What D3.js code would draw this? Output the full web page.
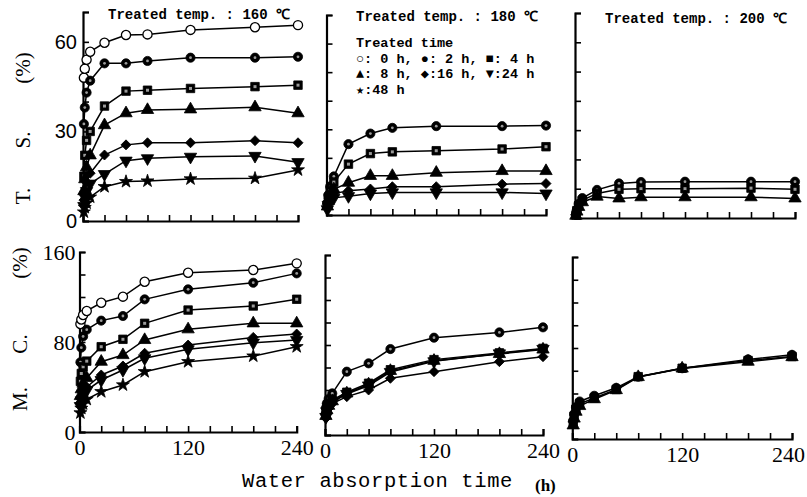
<!DOCTYPE html>
<html>
<head>
<meta charset="utf-8">
<script src="https://cdn.jsdelivr.net/npm/d3@7"></script>
<style>
  body { margin: 0; background: #fff; }
  svg { display: block; }
</style>
</head>
<body>
<svg id="chart" width="807" height="497"></svg>
<script>
// Water absorption time (h) at which each specimen was measured
const hours = [1, 2, 4, 8, 24, 48, 72, 120, 192, 240];
const hourTicks = [0, 24, 48, 72, 96, 120, 144, 168, 192, 216, 240];
const hourLabels = [0, 120, 240];

// Thickness swelling T.S. (%) — one row per treated time
const ts160Keys = ["0h", "2h", "4h", "8h", "16h", "24h", "48h"];
const ts160 = [
  [48.0, 51.0, 54.0, 56.7, 59.7, 62.3, 62.5, 64.0, 64.9, 65.6],
  [32.5, 38.0, 43.0, 47.0, 52.8, 52.8, 53.6, 54.7, 54.7, 55.0],
  [15.0, 22.0, 27.0, 30.0, 38.5, 43.5, 43.8, 44.4, 45.0, 45.5],
  [10.0, 14.0, 18.0, 22.0, 32.1, 36.1, 37.2, 37.4, 38.1, 36.1],
  [7.0, 10.0, 13.0, 16.0, 22.1, 25.5, 26.2, 26.2, 26.9, 26.2],
  [5.0, 8.0, 10.0, 12.5, 15.7, 20.2, 21.0, 21.5, 21.8, 19.7],
  [3.0, 4.5, 6.0, 8.0, 11.5, 13.2, 13.4, 14.1, 14.3, 17.1]
];
const ts180Keys = ["2h", "4h", "8h", "16h", "24h"];
const ts180 = [
  [4.0, 7.0, 10.0, 13.5, 24.8, 28.5, 30.5, 31.1, 31.1, 31.3],
  [3.5, 6.0, 8.5, 11.5, 17.8, 21.5, 22.1, 22.5, 23.1, 23.9],
  [3.0, 5.0, 7.0, 9.0, 11.3, 13.7, 13.7, 14.8, 15.4, 15.4],
  [2.5, 4.5, 6.0, 7.5, 8.5, 9.1, 9.9, 9.9, 10.8, 11.0],
  [2.0, 3.5, 5.0, 6.0, 6.6, 7.5, 7.9, 7.9, 7.9, 7.5]
];
const ts200Keys = ["2h", "4h", "8h"];
const ts200 = [
  [1.2, 2.8, 4.8, 6.8, 9.6, 11.8, 12.3, 12.4, 12.4, 12.4],
  [1.0, 2.5, 4.2, 6.0, 8.4, 9.8, 10.0, 10.0, 10.2, 9.8],
  [0.8, 2.2, 3.8, 5.4, 7.3, 6.7, 7.1, 7.1, 7.1, 6.7]
];

// Moisture content M.C. (%) — one row per treated time
const mc160Keys = ["0h", "2h", "4h", "8h", "16h", "24h", "48h"];
const mc160 = [
  [96.0, 100.0, 104.0, 107.6, 114.9, 120.3, 133.6, 141.6, 144.0, 149.9],
  [62.0, 75.0, 85.0, 91.0, 99.0, 103.1, 117.9, 126.8, 132.7, 141.0],
  [45.0, 52.0, 58.0, 63.0, 75.8, 82.4, 96.6, 108.4, 112.0, 118.0],
  [32.0, 38.0, 43.0, 48.0, 62.5, 68.4, 81.8, 91.3, 96.6, 96.6],
  [26.0, 31.0, 36.0, 40.0, 50.7, 58.7, 70.0, 77.3, 84.1, 87.1],
  [23.0, 28.0, 33.0, 37.0, 46.2, 55.1, 65.5, 73.5, 79.4, 81.8],
  [17.0, 21.0, 25.0, 29.0, 35.8, 41.8, 53.6, 62.5, 67.5, 75.8]
];
const mc180Keys = ["2h", "4h", "8h", "16h", "24h"];
const mc180 = [
  [24.0, 28.0, 32.0, 37.0, 56.3, 63.7, 76.4, 86.5, 91.2, 95.7],
  [18.0, 23.0, 27.0, 31.0, 38.0, 46.0, 58.0, 67.0, 73.0, 77.0],
  [17.0, 22.0, 26.0, 30.0, 37.0, 45.0, 57.0, 66.0, 72.0, 76.0],
  [15.0, 20.0, 24.0, 28.0, 34.1, 40.0, 50.4, 56.3, 65.2, 69.6],
  [16.0, 21.0, 25.0, 29.0, 36.5, 44.0, 56.0, 65.5, 72.5, 76.5]
];
const mc200Keys = ["2h", "4h", "8h"];
const mc200 = [
  [16.0, 22.0, 28.0, 33.0, 38.0, 45.0, 54.8, 62.2, 70.0, 74.0],
  [14.0, 20.0, 26.0, 31.0, 36.0, 43.5, 54.8, 62.2, 69.0, 72.5],
  [12.0, 18.0, 24.0, 29.0, 35.0, 43.0, 54.5, 62.0, 68.0, 72.0]
];

const tsTicks = [0, 10, 20, 30, 40, 50, 60, 70];
const tsLabels = [0, 30, 60];
const mcTicks = [0, 20, 40, 60, 80, 100, 120, 140, 160];
const mcLabels = [0, 80, 160];

const panelTitles = ["Treated temp. : 160 \u2103", "Treated temp. : 180 \u2103", "Treated temp. : 200 \u2103"];
const legendLines = [
  "Treated time",
  "\u25CB: 0 h, \u25CF: 2 h, \u25A0: 4 h",
  "\u25B2: 8 h, \u25C6:16 h, \u25BC:24 h",
  "\u2605:48 h"
];

// ---------------------------------------------------------------
const svg = d3.select("#chart");
svg.append("rect").attr("width", 807).attr("height", 497).attr("fill", "#fff");

const panels = [
  { keys: ts160Keys, rows: ts160, ticks: tsTicks, labels: tsLabels, top: 70, px: [83, 298], py: [221, 12], yLab: "sans", xLab: false },
  { keys: ts180Keys, rows: ts180, ticks: tsTicks, labels: null, top: 70, px: [326.5, 546], py: [215, 15], xLab: false },
  { keys: ts200Keys, rows: ts200, ticks: tsTicks, labels: null, top: 70, px: [575, 795], py: [218, 13], xLab: false },
  { keys: mc160Keys, rows: mc160, ticks: mcTicks, labels: mcLabels, top: 160, px: [79.5, 296.7], py: [432, 252], yLab: "serif", xLab: true },
  { keys: mc180Keys, rows: mc180, ticks: mcTicks, labels: null, top: 160, px: [325, 543], py: [435, 255], xLab: true },
  { keys: mc200Keys, rows: mc200, ticks: mcTicks, labels: null, top: 160, px: [572.3, 792], py: [439, 257], xLab: true, lastShift: -4 }
];

const markerSym = {
  "0h":  { type: d3.symbolCircle, size: 66, fill: "#fff", rot: 0 },
  "2h":  { type: d3.symbolCircle, size: 66, fill: "#000", rot: 0, inner: "circle" },
  "4h":  { type: d3.symbolSquare, size: 72, fill: "#000", rot: 0, inner: "square" },
  "8h":  { type: d3.symbolTriangle, size: 66, fill: "#000", rot: 0 },
  "16h": { type: d3.symbolSquare, size: 50, fill: "#000", rot: 45 },
  "24h": { type: d3.symbolTriangle, size: 66, fill: "#000", rot: 180 },
  "48h": { type: d3.symbolStar, size: 52, fill: "#000", rot: 0 }
};

panels.forEach(p => {
  const x = d3.scaleLinear().domain([0, 240]).range(p.px);
  const y = d3.scaleLinear().domain([0, p.top]).range(p.py);
  const g = svg.append("g");

  // y axis: ticks point inward, labels only on the leftmost column
  const yAxis = d3.axisLeft(y).tickValues(p.ticks)
    .tickSizeInner(-6).tickSizeOuter(-6).tickPadding(p.yLab === "sans" ? 6 : 4)
    .tickFormat(d => (p.labels && p.labels.includes(d)) ? d : "");
  const ya = g.append("g").attr("transform", `translate(${p.px[0]},0)`).call(yAxis);
  ya.selectAll("text")
    .attr("font-family", p.yLab === "sans" ? "Liberation Sans, Arial, sans-serif" : "Liberation Serif, Times New Roman, serif")
    .attr("font-size", p.yLab === "sans" ? 20 : 22)
    .attr("fill", "#000");

  // x axis: upward ticks every day, labels below on the bottom row
  const xAxis = d3.axisBottom(x).tickValues(hourTicks)
    .tickSizeInner(-6).tickSizeOuter(-6).tickPadding(7)
    .tickFormat(d => (p.xLab && hourLabels.includes(d)) ? d : "");
  const xa = g.append("g").attr("transform", `translate(0,${p.py[0]})`).call(xAxis);
  xa.selectAll("text")
    .attr("font-family", "Liberation Serif, Times New Roman, serif")
    .attr("font-size", 22)
    .attr("fill", "#000");
  if (p.lastShift) {
    xa.selectAll(".tick").filter(d => d === 240).select("text").attr("dx", p.lastShift);
  }

  g.selectAll(".domain").attr("stroke", "#000").attr("stroke-width", 2.2);
  g.selectAll(".tick line").attr("stroke", "#000").attr("stroke-width", 1.6);

  const line = d3.line().x((d, i) => x(hours[i])).y(d => y(d));

  p.rows.forEach(row => {
    g.append("path").datum(row)
      .attr("d", line)
      .attr("fill", "none")
      .attr("stroke", "#000")
      .attr("stroke-width", 1.5);
  });

  p.rows.forEach((row, si) => {
    const m = markerSym[p.keys[si]];
    const sym = d3.symbol().type(m.type).size(m.size);
    const mg = g.append("g");
    row.forEach((v, i) => {
      const cx = x(hours[i]), cy = y(v);
      const pt = mg.append("g").attr("transform", `translate(${cx},${cy}) rotate(${m.rot})`);
      pt.append("path").attr("d", sym())
        .attr("fill", m.fill)
        .attr("stroke", "#000")
        .attr("stroke-width", m.fill === "#fff" ? 1.3 : 0.8);
      if (m.inner === "circle") {
        pt.append("circle").attr("r", 1.4).attr("fill", "#9a9a9a");
      } else if (m.inner === "square") {
        pt.append("rect").attr("x", -1.5).attr("y", -1.5).attr("width", 3).attr("height", 3).attr("fill", "#9a9a9a");
      }
    });
  });
});

// Panel titles
const titlePos = [[108, 19], [356, 21], [605, 23]];
panelTitles.forEach((t, i) => {
  svg.append("text")
    .attr("x", titlePos[i][0]).attr("y", titlePos[i][1])
    .attr("font-family", "Liberation Mono, Courier New, monospace")
    .attr("font-weight", "bold")
    .attr("font-size", 14)
    .attr("fill", "#000")
    .text(t);
});

// Legend of treated times
legendLines.forEach((t, i) => {
  svg.append("text")
    .attr("x", 356).attr("y", 47 + i * 15.5)
    .attr("font-family", "Liberation Mono, DejaVu Sans Mono, monospace")
    .attr("font-weight", "bold")
    .attr("font-size", 13.5)
    .attr("fill", "#000")
    .text(t);
});

// Rotated y-axis titles
function yTitle(pieces, cx) {
  pieces.forEach(([txt, cy]) => {
    svg.append("text")
      .attr("transform", `translate(${cx},${cy}) rotate(-90)`)
      .attr("text-anchor", "middle")
      .attr("dy", "0.35em")
      .attr("font-family", "Liberation Serif, Times New Roman, serif")
      .attr("font-size", 21)
      .attr("fill", "#000")
      .text(txt);
  });
}
yTitle([["T.", 196], ["S.", 140], ["(%)", 68]], 23);
yTitle([["M.", 399], ["C.", 344], ["(%)", 263]], 20);

// x-axis title
svg.append("text")
  .attr("x", 242).attr("y", 487)
  .attr("font-family", "Liberation Mono, Courier New, monospace")
  .attr("font-size", 20.5)
  .attr("letter-spacing", 0.6)
  .attr("fill", "#000")
  .text("Water absorption time");
svg.append("text")
  .attr("x", 535).attr("y", 491)
  .attr("font-family", "Liberation Serif, Times New Roman, serif")
  .attr("font-size", 17)
  .attr("font-weight", "bold")
  .attr("fill", "#000")
  .text("(h)");
</script>
</body>
</html>
